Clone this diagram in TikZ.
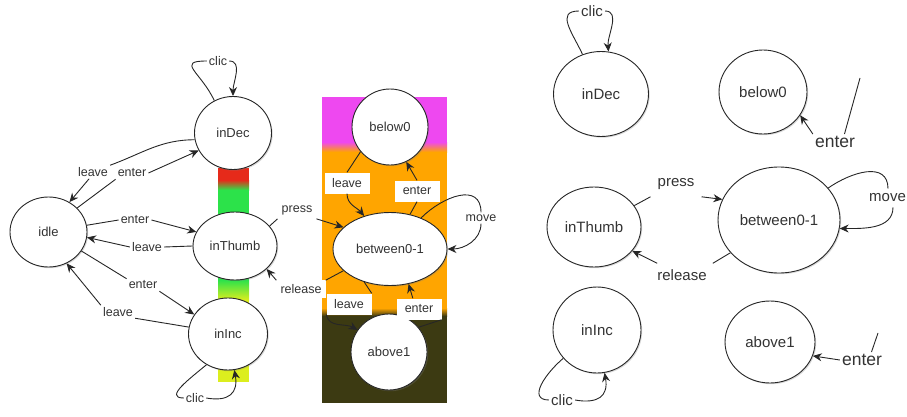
\documentclass[tikz,border=0pt]{standalone}
\usepackage{fontspec}
\setmainfont{Liberation Sans}
\usetikzlibrary{shapes.geometric,shadows,arrows.meta}
\definecolor{barred}{HTML}{E62A1A}
\definecolor{bargreen}{HTML}{2CE24A}
\definecolor{baryellow}{HTML}{DCEE1E}
\definecolor{zonetop}{HTML}{EE48F0}
\definecolor{zonemid}{HTML}{FFA500}
\definecolor{zonelow}{HTML}{3C3A12}
\begin{document}
\begin{tikzpicture}[x=1pt,y=1pt,
    state/.style={ellipse,draw=black!85,fill=white,line width=0.9pt,inner sep=0pt,
      text=black!80,font=\fontsize{13}{15}\selectfont,
      drop shadow={shadow xshift=1.2pt,shadow yshift=-1.2pt,opacity=0.3}},
    bigstate/.style={state,font=\fontsize{15}{17}\selectfont},
    lbl/.style={fill=white,inner sep=2pt,text=black!80,font=\fontsize{12.5}{14}\selectfont},
    tag/.style={lbl,minimum width=45pt,minimum height=21pt},
    biglbl/.style={lbl,font=\fontsize{15}{17}\selectfont},
    huge lbl/.style={lbl,font=\fontsize{17.5}{19}\selectfont},
    edge/.style={draw=black!85,line width=0.9pt},
    >={Stealth[length=9pt,width=8pt]}]
\useasboundingbox (0,0) rectangle (907,416);

% colour bar of the scrollbar
\fill[barred] (218,236) rectangle (249,248);
\shade[top color=barred,bottom color=bargreen] (218,226) rectangle (249,236);
\fill[bargreen] (218,136) rectangle (249,226);
\shade[top color=bargreen,bottom color=baryellow] (218,116) rectangle (249,136);
\fill[baryellow] (218,34) rectangle (249,116);

% zones of the thumb
\fill[zonetop] (322,274) rectangle (447,319);
\shade[top color=zonetop,bottom color=zonemid] (322,264) rectangle (447,274);
\fill[zonemid] (322,108) rectangle (447,264);
\shade[top color=zonemid,bottom color=zonelow] (322,100) rectangle (447,108);
\fill[zonelow] (322,13) rectangle (447,100);

% left machine
\node[state,minimum width=77pt,minimum height=70pt] (idle) at (48.5,184) {idle};
\node[state,minimum width=77pt,minimum height=73pt] (inDec) at (233,283) {inDec};
\node[state,minimum width=84pt,minimum height=68pt] (inThumb) at (235,170) {inThumb};
\node[state,minimum width=79pt,minimum height=72pt] (inInc) at (228,82) {inInc};
\node[state,minimum width=76pt,minimum height=76pt] (below0) at (390,289) {below0};
\node[state,minimum width=114pt,minimum height=73pt] (between) at (390,167) {between0-1};
\node[state,minimum width=76pt,minimum height=76pt] (above1) at (389,64) {above1};

\node[lbl] (clicA) at (218,355) {clic};
\node[lbl] (leaveA) at (93,244) {leave};
\node[lbl] (enterA) at (132,243) {enter};
\node[lbl] (enterB) at (135,196) {enter};
\node[lbl] (leaveB) at (147,169) {leave};
\node[lbl] (enterC) at (143,131) {enter};
\node[lbl] (leaveC) at (118,104) {leave};
\node[lbl] (clicB) at (195,18) {clic};
\node[lbl,inner sep=4pt] (press) at (297,206) {press};
\node[lbl,inner sep=4pt] (release) at (301,127) {release};
\node[tag] (leaveD) at (347,233) {leave};
\node[tag] (enterD) at (417,225) {enter};
\node[tag] (leaveE) at (349,112) {leave};
\node[tag] (enterE) at (419,107) {enter};
\node[lbl] (move) at (481,198) {move};

\draw[edge] (inDec.120) to[out=115,in=180,looseness=2] (clicA.west);
\draw[edge,->] (clicA.east) to[out=0,in=90] (inDec.north);
\draw[edge] (inDec.190) to[out=180,in=20] (leaveA.north east);
\draw[edge,->] (leaveA.240) -- (idle.55);
\draw[edge] (idle.40) -- (enterA.south west);
\draw[edge,->] (enterA.east) -- (inDec.207);
\draw[edge] (idle.10) -- (enterB.west);
\draw[edge,->] (enterB.east) -- (inThumb.160);
\draw[edge] (inThumb.west) -- (leaveB.east);
\draw[edge,->] (leaveB.west) -- (idle.352);
\draw[edge] (idle.-30) -- (enterC.north west);
\draw[edge,->] (enterC.south east) -- (inInc.150);
\draw[edge] (inInc.170) -- (leaveC.-20);
\draw[edge,->] (leaveC.north west) -- (idle.-60);
\draw[edge] (inInc.235) to[out=220,in=180,looseness=1.3] (clicB.west);
\draw[edge,->] (clicB.east) to[out=-10,in=-80,looseness=1.5] (inInc.-80);
\draw[edge] (inThumb.30) -- (press.south west);
\draw[edge,->] (press.south east) -- (between.155);
\draw[edge] (between.205) -- (release.north east);
\draw[edge,->] (release.north west) -- (inThumb.-36);
\draw[edge] (below0.220) -- (leaveD.north);
\draw[edge,->] (leaveD.south) to[out=-90,in=130] (between.128);
\draw[edge] (between.60) -- (enterD.south);
\draw[edge,->] (enterD.north) -- (below0.-65);
\draw[edge] (between.45) to[out=45,in=90,looseness=1.3] (move.north);
\draw[edge,->] (move.south) to[out=-90,in=0] (between.east);
\draw[edge] (between.-128) -- (leaveE.north east);
\draw[edge,->] (leaveE.south west) to[out=-80,in=150] (above1.145);
\draw[edge] (above1.40) -- (enterE.south east);
\draw[edge,->] (enterE.120) -- (between.-62);

% right machine
\node[bigstate,minimum width=95pt,minimum height=85pt] (inDecR) at (601,322) {inDec};
\node[bigstate,minimum width=88pt,minimum height=84pt] (below0R) at (763,324) {below0};
\node[bigstate,minimum width=94pt,minimum height=80pt] (inThumbR) at (594,189) {inThumb};
\node[bigstate,minimum width=122pt,minimum height=106pt] (betweenR) at (779,196) {between0-1};
\node[bigstate,minimum width=88pt,minimum height=86pt] (inIncR) at (597,86) {inInc};
\node[bigstate,minimum width=90pt,minimum height=82pt] (above1R) at (770,74) {above1};

\node[biglbl] (clicC) at (592,405) {clic};
\node[huge lbl] (enterF) at (835,274) {enter};
\node[biglbl,inner sep=7pt] (pressR) at (676,232) {press};
\node[biglbl,anchor=west,inner sep=1pt] (moveR) at (868,218) {move};
\node[biglbl,inner sep=6pt] (releaseR) at (682,141) {release};
\node[huge lbl] (enterG) at (862,56) {enter};
\node[biglbl] (clicD) at (562,16) {clic};
\coordinate (freeF) at (860,338);
\coordinate (freeG) at (878,83);

\draw[edge] (inDecR.115) to[out=115,in=180,looseness=1.4] (clicC.west);
\draw[edge,->] (clicC.east) to[out=0,in=95] (inDecR.80);
\draw[edge] (freeF) -- (enterF.40);
\draw[edge,->] (enterF.north west) -- (below0R.-32);
\draw[edge] (inThumbR.28) -- (pressR.south west);
\draw[edge,->] (pressR.south east) -- (betweenR.160);
\draw[edge] (betweenR.33) to[out=35,in=90,looseness=1.2] ([xshift=20pt,yshift=4pt]moveR.north west);
\draw[edge,->] ([xshift=25pt,yshift=-4pt]moveR.south west) to[out=-90,in=0] (betweenR.-8);
\draw[edge] (betweenR.214) -- (releaseR.north east);
\draw[edge,->] ([xshift=6pt]releaseR.north west) -- (inThumbR.-32);
\draw[edge] (freeG) -- (enterG.40);
\draw[edge,->] (enterG.west) -- (above1R.-18);
\draw[edge] (inIncR.-140) to[out=220,in=180,looseness=1.3] (clicD.west);
\draw[edge,->] (clicD.east) to[out=-10,in=-80,looseness=1.5] (inIncR.-80);
\end{tikzpicture}
\end{document}
